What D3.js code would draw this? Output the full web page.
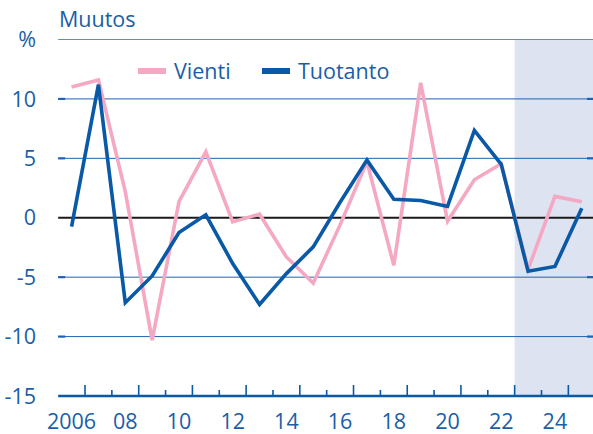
<!DOCTYPE html>
<html>
<head>
<meta charset="utf-8">
<script src="https://cdn.jsdelivr.net/npm/d3@7"></script>
<style>
  body { margin: 0; background: #fff; }
  text { font-family: "Open Sans", "Liberation Sans", Arial, sans-serif; fill: #1a5ea8; }
</style>
</head>
<body>
<div class="chart"></div>
<script>
// vuosimuutos, %
var years = d3.range(2006, 2026);
var vienti = [11.0, 11.6, 2.2, -10.3, 1.35, 5.55, -0.35, 0.3, -3.3, -5.5,
  -0.6, 4.7, -4.0, 11.35, -0.3, 3.2, 4.55, -4.35, 1.8, 1.35];
var tuotanto = [-0.75, 11.2, -7.15, -4.9, -1.25, 0.25, -3.85, -7.3, -4.7, -2.45,
  1.3, 4.85, 1.55, 1.45, 0.95, 7.35, 4.5, -4.5, -4.1, 0.8];
var yTicks = [-15, -10, -5, 0, 5, 10];
var xLabels = ["2006", "08", "10", "12", "14", "16", "18", "20", "22", "24"];
var forecastStart = 2023;

var width = 593, height = 434;
var pink = "#f5a8c4", blue = "#0a59a6";
var fs = "21.5px";

var svg = d3.select(".chart").append("svg")
  .attr("width", width).attr("height", height);

var x = d3.scaleLinear().domain([2006, 2026]).range([58.15, 595.2]);
var y = d3.scaleLinear().domain([-15, 15]).range([396, 39.5]);

// ennusteen tausta
svg.append("rect")
  .attr("x", x(forecastStart)).attr("y", y(15))
  .attr("width", width - x(forecastStart)).attr("height", y(-15) - y(15))
  .attr("fill", "#dde3f1");

// vaakaviivat
svg.append("line")
  .attr("x1", x(2006)).attr("x2", width)
  .attr("y1", y(15)).attr("y2", y(15))
  .attr("stroke", "#5b8cc4").attr("stroke-width", 1);

var grid = svg.append("g");
grid.selectAll("line.g")
  .data(yTicks.filter(function(d) { return d !== 0 && d !== -15; }))
  .enter().append("line")
  .attr("class", "g")
  .attr("x1", x(2006)).attr("x2", width)
  .attr("y1", function(d) { return y(d); })
  .attr("y2", function(d) { return y(d); })
  .attr("stroke", "#1f63ae").attr("stroke-width", 1);

// pienet merkit reunoilla
[[x(2006), x(2006) + 7], [width - 6, width]].forEach(function(r) {
  grid.selectAll(null)
    .data(yTicks.filter(function(d) { return d !== 0 && d !== -15; }))
    .enter().append("line")
    .attr("x1", r[0]).attr("x2", r[1])
    .attr("y1", function(d) { return y(d); })
    .attr("y2", function(d) { return y(d); })
    .attr("stroke", "#1f63ae").attr("stroke-width", 2.2);
});

// y-akselin tekstit
svg.selectAll("text.ylab")
  .data(yTicks)
  .enter().append("text")
  .attr("class", "ylab")
  .attr("x", 36)
  .attr("y", function(d) { return y(d); })
  .attr("dy", "0.36em")
  .attr("text-anchor", "end")
  .style("font-size", fs)
  .text(function(d) { return d; });

svg.append("text")
  .attr("x", 36).attr("y", y(15)).attr("dy", "0.36em")
  .attr("text-anchor", "end").style("font-size", fs)
  .text("%");

svg.append("text")
  .attr("x", 59).attr("y", 27)
  .style("font-size", fs)
  .text("Muutos");

// x-akseli
var xAxis = svg.append("g");
xAxis.selectAll("line.t")
  .data(d3.range(2007, 2026))
  .enter().append("line")
  .attr("class", "t")
  .attr("x1", function(d) { return x(d); })
  .attr("x2", function(d) { return x(d); })
  .attr("y1", y(-15))
  .attr("y2", function(d) { return (d - 2007) % 2 === 0 ? y(-15) - 11 : y(-15) - 6; })
  .attr("stroke", blue).attr("stroke-width", 1.6);

xAxis.append("line")
  .attr("x1", x(2006)).attr("x2", width)
  .attr("y1", y(-15)).attr("y2", y(-15))
  .attr("stroke", blue).attr("stroke-width", 2.6);

xAxis.selectAll("text")
  .data(xLabels)
  .enter().append("text")
  .attr("x", function(d, i) { return x(2006 + 2 * i + 0.5); })
  .attr("y", 429)
  .attr("text-anchor", "middle")
  .style("font-size", fs)
  .text(function(d) { return d; });

// nollaviiva
svg.append("line")
  .attr("x1", x(2006)).attr("x2", width)
  .attr("y1", y(0)).attr("y2", y(0))
  .attr("stroke", "#1a1a1a").attr("stroke-width", 2.2);

var line = d3.line()
  .x(function(d, i) { return x(years[i] + 0.5); })
  .y(function(d) { return y(d); });

svg.append("path")
  .datum(vienti)
  .attr("d", line)
  .attr("fill", "none")
  .attr("stroke", pink)
  .attr("stroke-width", 3.6);

svg.append("path")
  .datum(tuotanto)
  .attr("d", line)
  .attr("fill", "none")
  .attr("stroke", blue)
  .attr("stroke-width", 3.6);

// selite
var legend = [["Vienti", pink, 138], ["Tuotanto", blue, 262]];
legend.forEach(function(l) {
  svg.append("line")
    .attr("x1", l[2]).attr("x2", l[2] + 28)
    .attr("y1", 71).attr("y2", 71)
    .attr("stroke", l[1]).attr("stroke-width", 6);
  svg.append("text")
    .attr("x", l[2] + 36).attr("y", 71).attr("dy", "0.36em")
    .style("font-size", fs)
    .text(l[0]);
});
</script>
</body>
</html>
